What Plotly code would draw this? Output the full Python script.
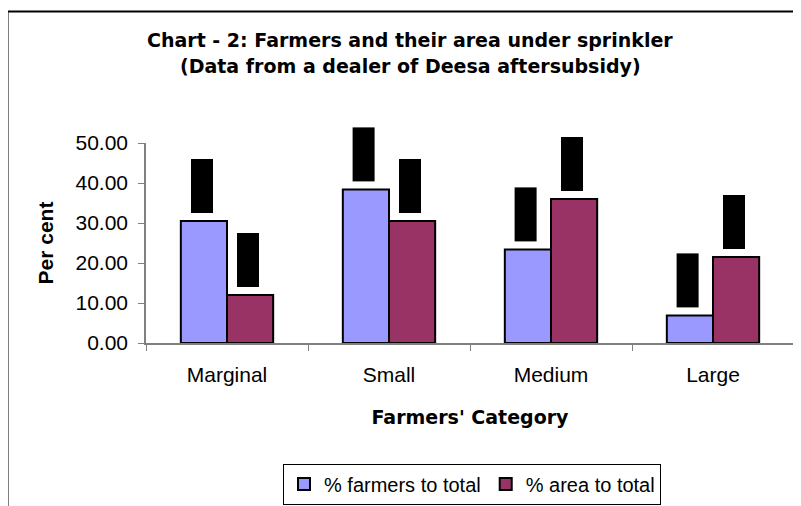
import plotly.graph_objects as go

# data
categories = ["Marginal", "Small", "Medium", "Large"]
farmers_pct = [30.5, 38.4, 23.4, 6.9]
area_pct = [12.0, 30.5, 36.0, 21.5]
series_names = ["% farmers to total", "% area to total"]
y_ticks = [0, 10, 20, 30, 40, 50]

# the page body adds an 8px margin, so the figure is drawn 8px smaller
OFF = 8
W, H = 801 - OFF, 506 - OFF
# plot area in page pixels: x 146..794, y 143..343
L, R, T, B = 146 - OFF, 801 - 794, 143 - OFF, 506 - 343
plot_w = W - L - R
plot_h = H - T - B


def px_x(x):
    # page pixel -> paper coordinate
    return (x - OFF - L) / plot_w


def px_y(y):
    return (H - B - (y - OFF)) / plot_h


FONT = "Liberation Sans, Arial, sans-serif"
WIDE_BOLD = "DejaVu Sans, Liberation Sans, Arial, sans-serif"

fig = go.Figure()
fig.add_trace(go.Bar(
    name=series_names[0], x=categories, y=farmers_pct,
    marker=dict(color="#9999FF", line=dict(color="#000000", width=2)),
))
fig.add_trace(go.Bar(
    name=series_names[1], x=categories, y=area_pct,
    marker=dict(color="#993366", line=dict(color="#000000", width=2)),
))

# data labels, blacked out as in the reference
for vals, shift in ((farmers_pct, -25), (area_pct, 21)):
    for cat, v in zip(categories, vals):
        fig.add_annotation(
            x=cat, y=v, xref="x", yref="y", text=f"{v:.2f}",
            showarrow=False, textangle=-90, width=54, height=22,
            bgcolor="#000000", font=dict(color="#000000", size=14, family=FONT),
            borderpad=0, borderwidth=0, xshift=shift, yshift=8,
            xanchor="center", yanchor="bottom",
        )

# two-line title
title_lines = ["Chart - 2: Farmers and their area under sprinkler",
               "(Data from a dealer of Deesa aftersubsidy)"]
for line, ypx in zip(title_lines, (40, 66)):
    fig.add_annotation(
        text=f"<b>{line}</b>",
        xref="paper", yref="paper", x=px_x(410), y=px_y(ypx),
        showarrow=False, xanchor="center", yanchor="middle",
        font=dict(size=19, family=WIDE_BOLD, color="#000000"),
    )

# chart area frame (only top and left visible in the crop)
fig.add_shape(
    type="rect", xref="paper", yref="paper",
    x0=px_x(7.5), x1=px_x(801 + 20), y0=px_y(506 + 20), y1=px_y(11.5),
    line=dict(color="#000000", width=2), layer="above",
)

fig.update_layout(
    width=W, height=H,
    margin=dict(l=L, r=R, t=T, b=B, autoexpand=False),
    paper_bgcolor="white", plot_bgcolor="white",
    barmode="group", bargap=0.43, bargroupgap=0,
    font=dict(family=FONT, size=21, color="#000000"),
    showlegend=True,
    legend=dict(
        orientation="h", x=px_x(472), y=px_y(484),
        xanchor="center", yanchor="middle",
        bordercolor="#000000", borderwidth=1, bgcolor="white",
        font=dict(size=20), itemwidth=30, tracegroupgap=0,
    ),
)
fig.update_xaxes(
    showline=True, linecolor="#808080", linewidth=1.5,
    ticks="outside", tickson="boundaries", ticklen=6, tickcolor="#808080",
    showgrid=False, tickfont=dict(size=21), ticklabelstandoff=12,
    title=dict(text="<b>Farmers' Category</b>",
               font=dict(size=19, family=WIDE_BOLD), standoff=26),
)
fig.update_yaxes(
    range=[0, 50], tickvals=y_ticks, tickformat=".2f",
    showline=True, linecolor="#808080", linewidth=1.5,
    ticks="outside", ticklen=6, tickcolor="#808080",
    showgrid=False, zeroline=False, tickfont=dict(size=21), ticklabelstandoff=6,
    title=dict(text="<b>Per cent</b>", font=dict(size=21), standoff=16),
)

fig.write_html("out.html")
